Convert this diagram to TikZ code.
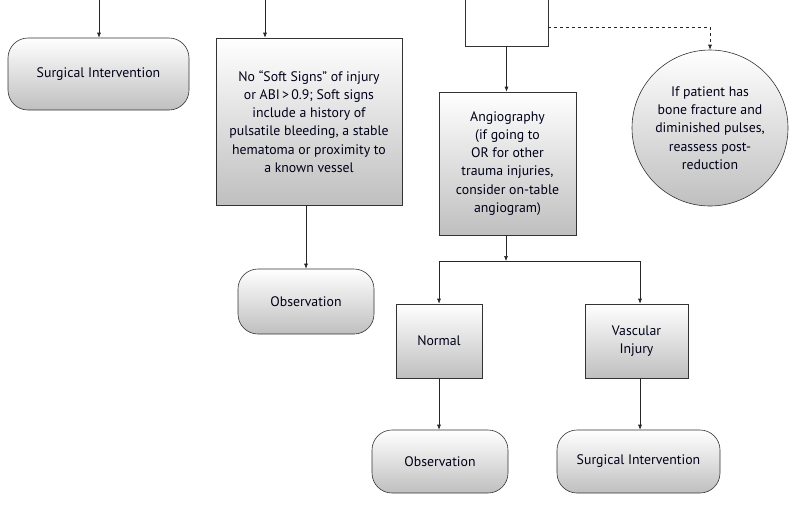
\documentclass[tikz,border=0pt]{standalone}
\usepackage{fontspec}
\setmainfont{PT Sans}
\usetikzlibrary{arrows.meta,positioning}
\begin{document}
\begin{tikzpicture}[x=1pt,y=-1pt,
  every node/.style={font=\fontsize{13.8}{18.2}\selectfont, text=black!90!blue, align=center, inner sep=0pt},
  gbox/.style={draw=black!80, line width=0.6pt, top color=white, bottom color=black!25},
  rbox/.style={gbox, rounded corners=20pt},
  arr/.style={draw=black!85, line width=0.6pt, -{Latex[length=5pt,width=4pt]}},
  ln/.style={draw=black!85, line width=0.6pt}]
\useasboundingbox (0,0) rectangle (797,523);
\clip (0,0) rectangle (797,523);
% coordinates above the top edge
\coordinate (t1) at (99,-5);
\coordinate (t2) at (265,-5);
% nodes
\node[rbox, minimum width=181pt, minimum height=72pt] (si1) at (98.5,74) {Surgical Intervention};
\node[gbox, minimum width=186pt, minimum height=167pt] (soft) at (309,121.5) {No “Soft Signs” of injury\\or ABI\,>\,0.9; Soft signs\\include a history of\\pulsatile bleeding, a stable\\hematoma or proximity to\\a known vessel};
\node[draw=black!80, line width=0.6pt, fill=white, minimum width=83pt, minimum height=66pt] (top) at (506.5,13) {};
\node[gbox, minimum width=137pt, minimum height=143pt] (angio) at (507.5,163.5) {Angiography\\(if going to\\OR for other\\trauma injuries,\\consider on-table\\angiogram)};
\node[gbox, circle, minimum size=156pt] (circ) at (710,128) {If patient has\\bone fracture and\\diminished pulses,\\reassess post-\\reduction};
\node[rbox, minimum width=136pt, minimum height=65pt] (obs1) at (306,301.5) {Observation};
\node[gbox, minimum width=86pt, minimum height=74pt] (normal) at (439,341) {Normal};
\node[gbox, minimum width=103pt, minimum height=74pt] (vasc) at (636.5,341) {Vascular\\Injury};
\node[rbox, minimum width=136pt, minimum height=63pt] (obs2) at (440,461.5) {Observation};
\node[rbox, minimum width=163pt, minimum height=63pt] (si2) at (638.5,461.5) {Surgical Intervention};
\coordinate (br) at (506,261);
\coordinate (bl) at (439,261);
\coordinate (brr) at (640,261);
\coordinate (dc) at (710,27);
% connectors
\draw[arr] (t1) -- (si1.north -| t1);
\draw[arr] (t2) -- (soft.north -| t2);
\draw[arr] (top.south) -- (angio.north -| top.south);
\draw[arr, dashed] (top.east |- dc) -- (dc) -- (circ.north);
\draw[arr] (obs1.north |- soft.south) -- (obs1.north);
\draw[arr] (angio.south -| br) -- (br);
\draw[ln] (bl) -- (brr);
\draw[arr] (bl) -- (normal.north);
\draw[arr] (brr) -- (vasc.north -| brr);
\draw[arr] (normal.south) -- (obs2.north -| normal.south);
\draw[arr] (vasc.south -| brr) -- (si2.north -| brr);
\end{tikzpicture}
\end{document}
